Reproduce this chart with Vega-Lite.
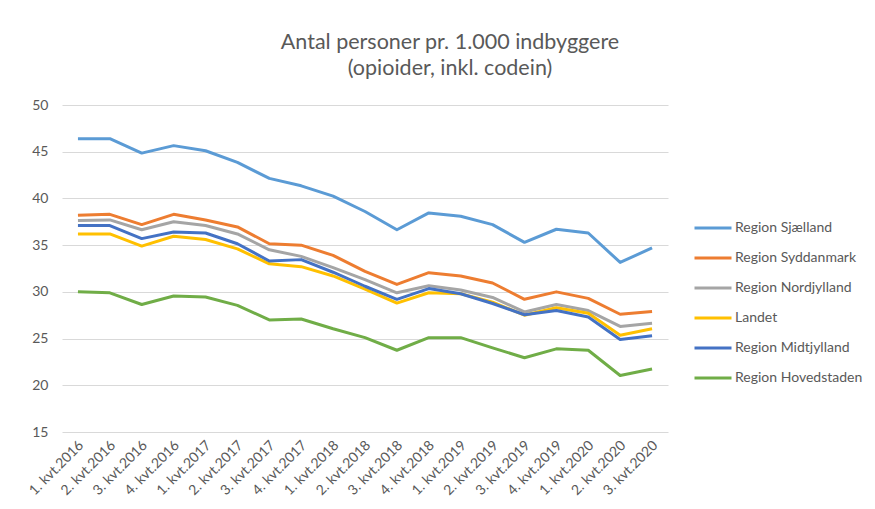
{
  "$schema": "https://vega.github.io/schema/vega-lite/v6.json",
  "width": 606,
  "height": 327,
  "autosize": "none",
  "padding": {"left": 62, "top": 105, "right": 207, "bottom": 77},
  "background": "white",
  "title": {
    "text": ["Antal personer pr. 1.000 indbyggere", "(opioider, inkl. codein)"],
    "font": "Lato", "fontSize": 21.5, "fontWeight": "normal", "color": "#595959",
    "anchor": "middle", "offset": 19, "dx": 85, "lineHeight": 26
  },
  "datasets": {
    "d": [
      {"kvartal": "1. kvt.2016", "region": "Region Sjælland", "v": 46.4},
      {"kvartal": "2. kvt.2016", "region": "Region Sjælland", "v": 46.4},
      {"kvartal": "3. kvt.2016", "region": "Region Sjælland", "v": 44.85},
      {"kvartal": "4. kvt.2016", "region": "Region Sjælland", "v": 45.65},
      {"kvartal": "1. kvt.2017", "region": "Region Sjælland", "v": 45.1},
      {"kvartal": "2. kvt.2017", "region": "Region Sjælland", "v": 43.85},
      {"kvartal": "3. kvt.2017", "region": "Region Sjælland", "v": 42.15},
      {"kvartal": "4. kvt.2017", "region": "Region Sjælland", "v": 41.35},
      {"kvartal": "1. kvt.2018", "region": "Region Sjælland", "v": 40.25},
      {"kvartal": "2. kvt.2018", "region": "Region Sjælland", "v": 38.6},
      {"kvartal": "3. kvt.2018", "region": "Region Sjælland", "v": 36.65},
      {"kvartal": "4. kvt.2018", "region": "Region Sjælland", "v": 38.45},
      {"kvartal": "1. kvt.2019", "region": "Region Sjælland", "v": 38.1},
      {"kvartal": "2. kvt.2019", "region": "Region Sjælland", "v": 37.2},
      {"kvartal": "3. kvt.2019", "region": "Region Sjælland", "v": 35.3},
      {"kvartal": "4. kvt.2019", "region": "Region Sjælland", "v": 36.7},
      {"kvartal": "1. kvt.2020", "region": "Region Sjælland", "v": 36.3},
      {"kvartal": "2. kvt.2020", "region": "Region Sjælland", "v": 33.15},
      {"kvartal": "3. kvt.2020", "region": "Region Sjælland", "v": 34.7},

      {"kvartal": "1. kvt.2016", "region": "Region Syddanmark", "v": 38.2},
      {"kvartal": "2. kvt.2016", "region": "Region Syddanmark", "v": 38.3},
      {"kvartal": "3. kvt.2016", "region": "Region Syddanmark", "v": 37.2},
      {"kvartal": "4. kvt.2016", "region": "Region Syddanmark", "v": 38.3},
      {"kvartal": "1. kvt.2017", "region": "Region Syddanmark", "v": 37.7},
      {"kvartal": "2. kvt.2017", "region": "Region Syddanmark", "v": 36.95},
      {"kvartal": "3. kvt.2017", "region": "Region Syddanmark", "v": 35.15},
      {"kvartal": "4. kvt.2017", "region": "Region Syddanmark", "v": 35.0},
      {"kvartal": "1. kvt.2018", "region": "Region Syddanmark", "v": 33.9},
      {"kvartal": "2. kvt.2018", "region": "Region Syddanmark", "v": 32.2},
      {"kvartal": "3. kvt.2018", "region": "Region Syddanmark", "v": 30.8},
      {"kvartal": "4. kvt.2018", "region": "Region Syddanmark", "v": 32.05},
      {"kvartal": "1. kvt.2019", "region": "Region Syddanmark", "v": 31.7},
      {"kvartal": "2. kvt.2019", "region": "Region Syddanmark", "v": 30.95},
      {"kvartal": "3. kvt.2019", "region": "Region Syddanmark", "v": 29.2},
      {"kvartal": "4. kvt.2019", "region": "Region Syddanmark", "v": 30.0},
      {"kvartal": "1. kvt.2020", "region": "Region Syddanmark", "v": 29.3},
      {"kvartal": "2. kvt.2020", "region": "Region Syddanmark", "v": 27.6},
      {"kvartal": "3. kvt.2020", "region": "Region Syddanmark", "v": 27.9},

      {"kvartal": "1. kvt.2016", "region": "Region Nordjylland", "v": 37.65},
      {"kvartal": "2. kvt.2016", "region": "Region Nordjylland", "v": 37.7},
      {"kvartal": "3. kvt.2016", "region": "Region Nordjylland", "v": 36.65},
      {"kvartal": "4. kvt.2016", "region": "Region Nordjylland", "v": 37.5},
      {"kvartal": "1. kvt.2017", "region": "Region Nordjylland", "v": 37.1},
      {"kvartal": "2. kvt.2017", "region": "Region Nordjylland", "v": 36.2},
      {"kvartal": "3. kvt.2017", "region": "Region Nordjylland", "v": 34.5},
      {"kvartal": "4. kvt.2017", "region": "Region Nordjylland", "v": 33.8},
      {"kvartal": "1. kvt.2018", "region": "Region Nordjylland", "v": 32.6},
      {"kvartal": "2. kvt.2018", "region": "Region Nordjylland", "v": 31.3},
      {"kvartal": "3. kvt.2018", "region": "Region Nordjylland", "v": 29.9},
      {"kvartal": "4. kvt.2018", "region": "Region Nordjylland", "v": 30.65},
      {"kvartal": "1. kvt.2019", "region": "Region Nordjylland", "v": 30.2},
      {"kvartal": "2. kvt.2019", "region": "Region Nordjylland", "v": 29.4},
      {"kvartal": "3. kvt.2019", "region": "Region Nordjylland", "v": 27.85},
      {"kvartal": "4. kvt.2019", "region": "Region Nordjylland", "v": 28.65},
      {"kvartal": "1. kvt.2020", "region": "Region Nordjylland", "v": 28.0},
      {"kvartal": "2. kvt.2020", "region": "Region Nordjylland", "v": 26.3},
      {"kvartal": "3. kvt.2020", "region": "Region Nordjylland", "v": 26.65},

      {"kvartal": "1. kvt.2016", "region": "Landet", "v": 36.2},
      {"kvartal": "2. kvt.2016", "region": "Landet", "v": 36.2},
      {"kvartal": "3. kvt.2016", "region": "Landet", "v": 34.9},
      {"kvartal": "4. kvt.2016", "region": "Landet", "v": 35.95},
      {"kvartal": "1. kvt.2017", "region": "Landet", "v": 35.6},
      {"kvartal": "2. kvt.2017", "region": "Landet", "v": 34.6},
      {"kvartal": "3. kvt.2017", "region": "Landet", "v": 33.0},
      {"kvartal": "4. kvt.2017", "region": "Landet", "v": 32.7},
      {"kvartal": "1. kvt.2018", "region": "Landet", "v": 31.7},
      {"kvartal": "2. kvt.2018", "region": "Landet", "v": 30.3},
      {"kvartal": "3. kvt.2018", "region": "Landet", "v": 28.8},
      {"kvartal": "4. kvt.2018", "region": "Landet", "v": 29.9},
      {"kvartal": "1. kvt.2019", "region": "Landet", "v": 29.8},
      {"kvartal": "2. kvt.2019", "region": "Landet", "v": 28.9},
      {"kvartal": "3. kvt.2019", "region": "Landet", "v": 27.5},
      {"kvartal": "4. kvt.2019", "region": "Landet", "v": 28.3},
      {"kvartal": "1. kvt.2020", "region": "Landet", "v": 27.7},
      {"kvartal": "2. kvt.2020", "region": "Landet", "v": 25.35},
      {"kvartal": "3. kvt.2020", "region": "Landet", "v": 26.05},

      {"kvartal": "1. kvt.2016", "region": "Region Midtjylland", "v": 37.1},
      {"kvartal": "2. kvt.2016", "region": "Region Midtjylland", "v": 37.1},
      {"kvartal": "3. kvt.2016", "region": "Region Midtjylland", "v": 35.7},
      {"kvartal": "4. kvt.2016", "region": "Region Midtjylland", "v": 36.4},
      {"kvartal": "1. kvt.2017", "region": "Region Midtjylland", "v": 36.3},
      {"kvartal": "2. kvt.2017", "region": "Region Midtjylland", "v": 35.15},
      {"kvartal": "3. kvt.2017", "region": "Region Midtjylland", "v": 33.3},
      {"kvartal": "4. kvt.2017", "region": "Region Midtjylland", "v": 33.45},
      {"kvartal": "1. kvt.2018", "region": "Region Midtjylland", "v": 32.1},
      {"kvartal": "2. kvt.2018", "region": "Region Midtjylland", "v": 30.6},
      {"kvartal": "3. kvt.2018", "region": "Region Midtjylland", "v": 29.2},
      {"kvartal": "4. kvt.2018", "region": "Region Midtjylland", "v": 30.35},
      {"kvartal": "1. kvt.2019", "region": "Region Midtjylland", "v": 29.8},
      {"kvartal": "2. kvt.2019", "region": "Region Midtjylland", "v": 28.75},
      {"kvartal": "3. kvt.2019", "region": "Region Midtjylland", "v": 27.55},
      {"kvartal": "4. kvt.2019", "region": "Region Midtjylland", "v": 28.0},
      {"kvartal": "1. kvt.2020", "region": "Region Midtjylland", "v": 27.3},
      {"kvartal": "2. kvt.2020", "region": "Region Midtjylland", "v": 24.9},
      {"kvartal": "3. kvt.2020", "region": "Region Midtjylland", "v": 25.3},

      {"kvartal": "1. kvt.2016", "region": "Region Hovedstaden", "v": 30.0},
      {"kvartal": "2. kvt.2016", "region": "Region Hovedstaden", "v": 29.9},
      {"kvartal": "3. kvt.2016", "region": "Region Hovedstaden", "v": 28.65},
      {"kvartal": "4. kvt.2016", "region": "Region Hovedstaden", "v": 29.55},
      {"kvartal": "1. kvt.2017", "region": "Region Hovedstaden", "v": 29.45},
      {"kvartal": "2. kvt.2017", "region": "Region Hovedstaden", "v": 28.55},
      {"kvartal": "3. kvt.2017", "region": "Region Hovedstaden", "v": 27.0},
      {"kvartal": "4. kvt.2017", "region": "Region Hovedstaden", "v": 27.1},
      {"kvartal": "1. kvt.2018", "region": "Region Hovedstaden", "v": 26.05},
      {"kvartal": "2. kvt.2018", "region": "Region Hovedstaden", "v": 25.1},
      {"kvartal": "3. kvt.2018", "region": "Region Hovedstaden", "v": 23.75},
      {"kvartal": "4. kvt.2018", "region": "Region Hovedstaden", "v": 25.1},
      {"kvartal": "1. kvt.2019", "region": "Region Hovedstaden", "v": 25.1},
      {"kvartal": "2. kvt.2019", "region": "Region Hovedstaden", "v": 24.0},
      {"kvartal": "3. kvt.2019", "region": "Region Hovedstaden", "v": 22.95},
      {"kvartal": "4. kvt.2019", "region": "Region Hovedstaden", "v": 23.9},
      {"kvartal": "1. kvt.2020", "region": "Region Hovedstaden", "v": 23.75},
      {"kvartal": "2. kvt.2020", "region": "Region Hovedstaden", "v": 21.05},
      {"kvartal": "3. kvt.2020", "region": "Region Hovedstaden", "v": 21.75}
    ]
  },
  "data": {"name": "d"},
  "mark": {"type": "line", "strokeWidth": 3, "strokeJoin": "round"},
  "encoding": {
    "x": {
      "field": "kvartal", "type": "ordinal", "sort": null,
      "scale": {"type": "point", "padding": 0.5},
      "axis": {
        "title": null, "labelAngle": -45, "labelAlign": "right", "labelBaseline": "middle",
        "ticks": false, "domain": false, "grid": false, "labelPadding": 11, "labelOffset": 3,
        "labelFont": "Lato", "labelFontSize": 14, "labelColor": "#595959"
      }
    },
    "y": {
      "field": "v", "type": "quantitative",
      "scale": {"domain": [15, 50], "nice": false, "zero": false},
      "axis": {
        "title": null, "values": [15, 20, 25, 30, 35, 40, 45, 50],
        "ticks": false, "domain": false, "gridColor": "#D9D9D9", "gridWidth": 1,
        "labelPadding": 14, "labelFont": "Lato", "labelFontSize": 14, "labelColor": "#595959"
      }
    },
    "color": {
      "field": "region", "type": "nominal",
      "scale": {
        "domain": ["Region Sjælland", "Region Syddanmark", "Region Nordjylland", "Landet", "Region Midtjylland", "Region Hovedstaden"],
        "range": ["#5B9BD5", "#ED7D31", "#A5A5A5", "#FFC000", "#4472C4", "#70AD47"]
      },
      "legend": {
        "title": null, "orient": "none", "legendX": 631, "legendY": 103, "padding": 0,
        "symbolType": "stroke", "symbolSize": 1369, "symbolStrokeWidth": 3,
        "labelFont": "Lato", "labelFontSize": 14, "labelColor": "#595959",
        "rowPadding": 3, "labelOffset": 2
      }
    }
  },
  "config": {"view": {"stroke": null}}
}
